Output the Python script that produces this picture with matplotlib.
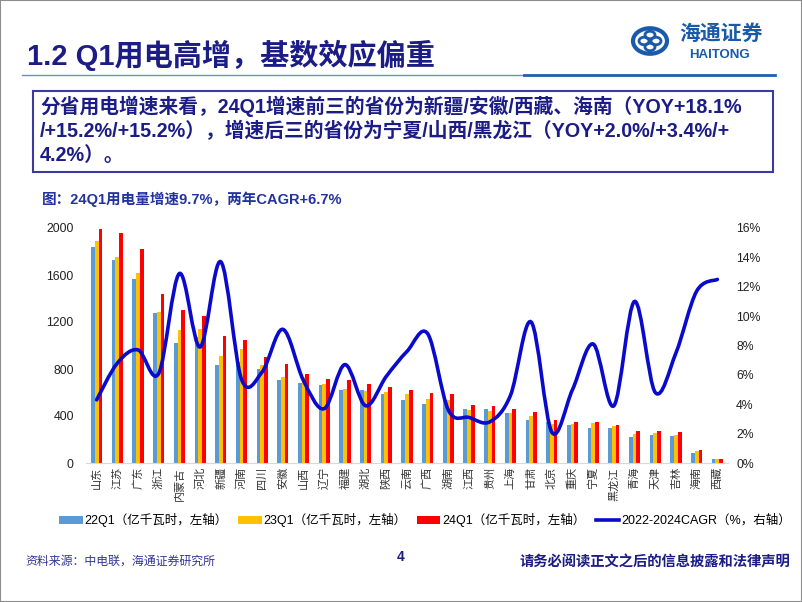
import numpy as np
import matplotlib
matplotlib.use('Agg')
import matplotlib.pyplot as plt
from matplotlib.patches import Rectangle, Circle
from matplotlib.path import Path
from matplotlib.patches import PathPatch
from matplotlib.lines import Line2D

plt.rcParams['font.family'] = ['Liberation Sans', 'Noto Sans CJK SC', 'DejaVu Sans']

# data
provinces = ['山东', '江苏', '广东', '浙江', '内蒙古', '河北', '新疆', '河南', '四川', '安徽',
             '山西', '辽宁', '福建', '湖北', '陕西', '云南', '广西', '湖南', '江西', '贵州',
             '上海', '甘肃', '北京', '重庆', '宁夏', '黑龙江', '青海', '天津', '吉林', '海南', '西藏']
q1_22 = [1838, 1725, 1569, 1277, 1021, 1072, 837, 862, 800, 706,
         684, 661, 618, 618, 584, 539, 502, 539, 462, 462,
         425, 363, 349, 321, 295, 301, 221, 241, 227, 88, 31]
q1_23 = [1889, 1753, 1620, 1282, 1135, 1143, 913, 970, 834, 732,
         732, 675, 627, 610, 604, 584, 542, 533, 448, 440,
         425, 397, 335, 335, 340, 312, 250, 255, 241, 99, 34]
q1_24 = [1994, 1957, 1824, 1441, 1299, 1248, 1078, 1047, 902, 843,
         755, 715, 704, 670, 647, 624, 596, 584, 491, 488,
         462, 434, 369, 349, 346, 323, 272, 270, 261, 113, 37]
cagr = [4.3, 6.8, 7.7, 6.1, 12.9, 7.9, 13.7, 5.7, 6.2, 9.1,
        5.6, 3.7, 6.7, 3.9, 5.9, 7.6, 8.8, 3.6, 3.1, 2.8,
        4.6, 9.6, 2.1, 5.0, 8.1, 3.9, 11.0, 4.8, 7.5, 11.7, 12.5]
left_ticks = [0, 400, 800, 1200, 1600, 2000]
right_ticks = [0, 2, 4, 6, 8, 10, 12, 14, 16]

navy = '#1c1c86'
W, H = 802, 602

fig = plt.figure(figsize=(8.02, 6.02), dpi=100)

def fx(px):
    return px / W

def fy(py):
    return 1 - py / H

# slide frame
fig.patches.append(Rectangle((0, 0), 1, 1, transform=fig.transFigure, fill=False,
                             edgecolor='#8c8c8c', lw=1.5))

# title + rule
fig.text(fx(27), fy(55), '1.2 Q1用电高增，基数效应偏重', fontsize=21, fontweight='bold',
         color=navy, va='center', ha='left')
fig.add_artist(Line2D([fx(22), fx(524)], [fy(75), fy(75)], color='#6f8fb5', lw=1))
fig.add_artist(Line2D([fx(524), fx(775)], [fy(75), fy(75)], color='#1f5fb0', lw=2))

# logo
lc = '#1a5aa8'
fig.patches.append(Circle((fx(650), fy(41)), 17 / W, transform=fig.transFigure,
                          fill=False, edgecolor=lc, lw=3))
for dx, dy in [(-6, 0), (6, 0), (0, -6), (0, 6)]:
    fig.patches.append(Circle((fx(650 + dx), fy(41 + dy)), 5 / W, transform=fig.transFigure,
                              fill=False, edgecolor=lc, lw=2))
fig.text(fx(721), fy(34), '海通证券', fontsize=15, fontweight='bold', color=lc,
         ha='center', va='center', style='italic')
fig.text(fx(720), fy(55), 'HAITONG', fontsize=9.5, fontweight='bold', color=lc,
         ha='center', va='center')

# text box
fig.patches.append(Rectangle((fx(33), fy(172)), (773 - 33) / W, (172 - 91) / H,
                             transform=fig.transFigure, fill=False, edgecolor='#3a3aa0', lw=1.5))
box_lines = ['分省用电增速来看，24Q1增速前三的省份为新疆/安徽/西藏、海南（YOY+18.1%',
             '/+15.2%/+15.2%），增速后三的省份为宁夏/山西/黑龙江（YOY+2.0%/+3.4%/+',
             '4.2%）。']
for k, t in enumerate(box_lines):
    fig.text(fx(40), fy(106 + 25 * k), t, fontsize=14.2, fontweight='bold', color=navy,
             ha='left', va='center')

fig.text(fx(42), fy(199), '图：24Q1用电量增速9.7%，两年CAGR+6.7%', fontsize=10.5,
         fontweight='bold', color='#2233a0', ha='left', va='center')

# chart
ax = fig.add_axes([fx(86.3), fy(463), (727.7 - 86.3) / W, (463 - 228) / H])
x = np.arange(len(provinces))
bw = 0.18
ax.bar(x - bw, q1_22, bw, color='#5b9bd5', label='22Q1（亿千瓦时，左轴）')
ax.bar(x, q1_23, bw, color='#ffc000', label='23Q1（亿千瓦时，左轴）')
ax.bar(x + bw, q1_24, bw, color='#ff0000', label='24Q1（亿千瓦时，左轴）')
ax.set_xlim(-0.5, len(provinces) - 0.5)
ax.set_ylim(0, 2000)
ax.set_yticks(left_ticks)
ax.set_yticklabels([str(v) for v in left_ticks], fontsize=8.8, color='#222222')
ax.set_xticks(x)
ax.set_xticklabels(provinces, rotation=90, fontsize=8, color='#333333', va='top')
ax.tick_params(length=0, pad=9, axis='y')
ax.tick_params(length=0, pad=3, axis='x')
for s in ['top', 'left', 'right']:
    ax.spines[s].set_visible(False)
ax.spines['bottom'].set_color('#d9d9d9')

ax2 = ax.twinx()
ax2.set_ylim(0, 16)
ax2.set_yticks(right_ticks)
ax2.set_yticklabels([f'{v}%' for v in right_ticks], fontsize=8.8, color='#222222')
ax2.tick_params(length=0, pad=6)
for s in ax2.spines.values():
    s.set_visible(False)

# smoothed line (cubic bezier through the points, like Excel's smooth line)
pts = np.column_stack([x, cagr]).astype(float)
ext = np.vstack([pts[0], pts, pts[-1]])
verts = [tuple(pts[0])]
codes = [Path.MOVETO]
for i in range(len(pts) - 1):
    p0, p1, p2, p3 = ext[i], ext[i + 1], ext[i + 2], ext[i + 3]
    c1 = p1 + (p2 - p0) / 6
    c2 = p2 - (p3 - p1) / 6
    verts += [tuple(c1), tuple(c2), tuple(p2)]
    codes += [Path.CURVE4] * 3
ax2.add_patch(PathPatch(Path(verts, codes), fill=False, edgecolor='#0a0acc', lw=2.6,
                        capstyle='round'))

handles, labels = ax.get_legend_handles_labels()
handles.append(Line2D([], [], color='#0a0acc', lw=2.6))
labels.append('2022-2024CAGR（%，右轴）')
fig.legend(handles, labels, loc='center', bbox_to_anchor=(fx(425), fy(520)), ncol=4,
           frameon=False, fontsize=9, handlelength=1.9, handleheight=0.6,
           handletextpad=0.15, columnspacing=0.8)

# footer
fig.text(fx(25), fy(562), '资料来源：中电联，海通证券研究所', fontsize=8.6, color='#333399',
         ha='left', va='center')
fig.text(fx(401), fy(557), '4', fontsize=10, fontweight='bold', color=navy,
         ha='center', va='center')
fig.text(fx(790), fy(562), '请务必阅读正文之后的信息披露和法律声明', fontsize=10.3,
         fontweight='bold', color=navy, ha='right', va='center')

fig.savefig('out.png', dpi=100)
